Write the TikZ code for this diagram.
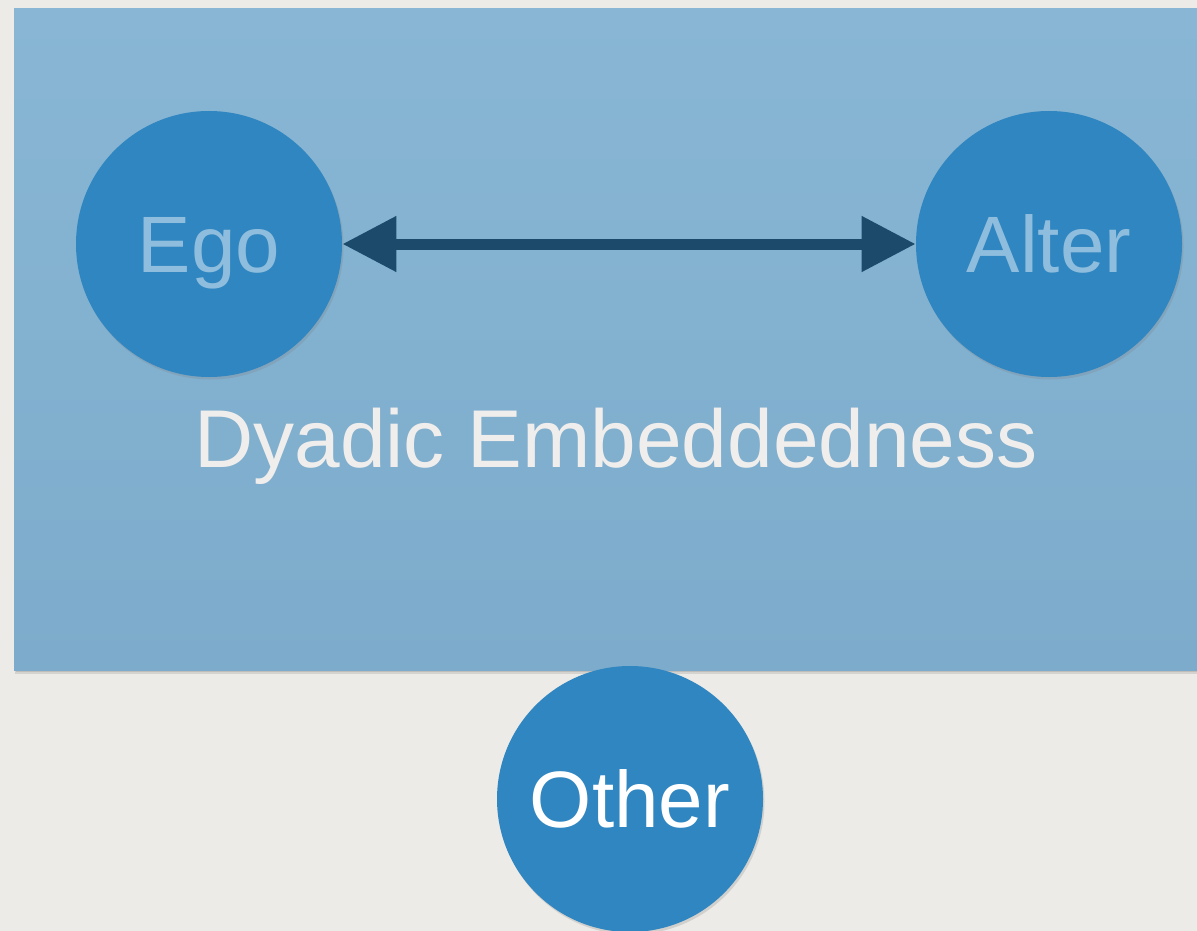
\documentclass[tikz,border=0pt]{standalone}
\usepackage{fontspec}
\setmainfont{Liberation Sans}
\usetikzlibrary{arrows.meta,shadows}

\definecolor{paper}{RGB}{237,235,231}
\definecolor{boxtop}{RGB}{136,182,212}
\definecolor{boxbot}{RGB}{125,171,203}
\definecolor{nodeblue}{RGB}{47,134,192}
\definecolor{arrowblue}{RGB}{27,74,107}
\definecolor{softblue}{RGB}{143,189,221}
\definecolor{offwhite}{RGB}{240,238,236}

\tikzset{every picture/.style={line width=0.75pt}}
\tikzset{
  actor/.style={circle, fill=nodeblue, minimum size=266pt, inner sep=0pt,
    text height=57pt, text depth=0pt,
    font=\fontsize{80}{96}\selectfont,
    drop shadow={shadow xshift=1.5pt, shadow yshift=-2.5pt, opacity=0.25}},
  tie/.style={draw=arrowblue, line width=11pt,
    {Triangle[length=54pt,width=53pt]}-{Triangle[length=54pt,width=53pt]}}
}

\begin{document}
\begin{tikzpicture}[x=1pt,y=1pt,yscale=-1,xscale=1]
        \useasboundingbox (0,0) rectangle (1197,931);

        %Shape: Background
        \fill [paper] (0,0) rectangle (1197,931);
        %Shape: Rectangle shadow
        \fill [black, opacity=0.10] (15,11) rectangle (1197,674);
        \fill [black, opacity=0.10] (16,12) rectangle (1197,672);
        %Shape: Rectangle
        \shade [top color=boxtop, bottom color=boxbot] (14,9) rectangle (1197,670);

        %Shape: Circle
        \draw (209,244) node [actor, text=softblue] (ego) {Ego};
        %Shape: Circle
        \draw (1049,244) node [actor, text=softblue] (alter) {Alter};
        %Shape: Circle
        \draw (630,799) node [actor, text=white] (other) {Other};

        %Straight Lines
        \draw [tie] (ego) -- (alter);

        % Text Node
        \draw (616,438.5) node [inner sep=0pt, text height=57pt, text depth=0pt, text=offwhite, font=\fontsize{82}{98}\selectfont] (embed) {Dyadic Embeddedness};

    \end{tikzpicture}
\end{document}
